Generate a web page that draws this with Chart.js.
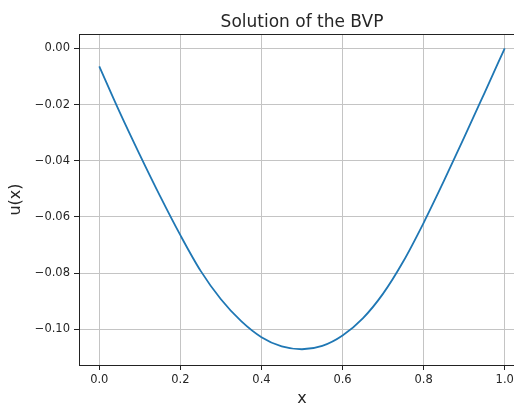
<!DOCTYPE html>
<html>
<head>
<meta charset="utf-8">
<script src="https://cdn.jsdelivr.net/npm/chart.js@4"></script>
<style>
  html, body { margin: 0; padding: 0; background: #fff; overflow: hidden; }
  canvas { display: block; }
</style>
</head>
<body>
<canvas id="c" width="540" height="405"></canvas>
<script>
// Values
const xs = [0, 0.05, 0.1, 0.15, 0.2, 0.25, 0.3, 0.35, 0.4, 0.45, 0.5,
            0.55, 0.6, 0.65, 0.7, 0.75, 0.8, 0.85, 0.9, 0.95, 1.0];
const us = [-0.0064, -0.0226, -0.0379, -0.0526, -0.0665, -0.0792, -0.0893, -0.0971, -0.1028, -0.1061, -0.1071,
            -0.1059, -0.1022, -0.0961, -0.0873, -0.0758, -0.0621, -0.0472, -0.0317, -0.0159, 0.0];

const xTicks = [0, 0.2, 0.4, 0.6, 0.8, 1.0];
const yTicks = [0, -0.02, -0.04, -0.06, -0.08, -0.10];

const TITLE = 'Solution of the BVP';
const FONT = '"DejaVu Sans", sans-serif';
const TEXT = '#262626';
const GRID = '#c4c4c4';

// title centred over the plot area, plus the frame round it
const frame = {
  id: 'frame',
  afterDraw(chart) {
    const { ctx, chartArea: a } = chart;
    ctx.save();
    ctx.strokeStyle = '#222';
    ctx.lineWidth = 1;
    ctx.strokeRect(a.left + 0.5, a.top + 0.5, a.right - a.left, a.bottom - a.top);
    ctx.fillStyle = TEXT;
    ctx.font = '17px ' + FONT;
    ctx.textAlign = 'center';
    ctx.textBaseline = 'alphabetic';
    ctx.fillText(TITLE, (a.left + a.right) / 2, 26.5);
    ctx.restore();
  }
};

const minus = s => s.replace('-', '\u2212');

new Chart(document.getElementById('c'), {
  type: 'line',
  data: {
    datasets: [{
      data: xs.map((x, i) => ({ x, y: us[i] })),
      borderColor: '#1f77b4',
      borderWidth: 1.8,
      pointRadius: 0,
      cubicInterpolationMode: 'monotone',
      fill: false,
    }]
  },
  options: {
    responsive: false,
    animation: false,
    layout: { padding: { top: 34, right: 15, left: 0, bottom: 0 } },
    plugins: { legend: { display: false }, tooltip: { enabled: false } },
    scales: {
      x: {
        type: 'linear',
        min: -0.05,
        max: 1.05,
        afterBuildTicks: s => { s.ticks = xTicks.map(v => ({ value: v })); },
        afterFit: s => { s.height = 40; },
        border: { display: false },
        grid: { color: GRID, lineWidth: 1, tickColor: '#222', tickLength: 5 },
        ticks: {
          color: TEXT, padding: 3, maxRotation: 0,
          font: { family: FONT, size: 11.5 },
          callback: v => minus(v.toFixed(1)),
        },
        title: {
          display: true, text: 'x', color: TEXT,
          font: { family: FONT, size: 16 }, padding: { top: 0, bottom: -3 },
        },
      },
      y: {
        type: 'linear',
        min: -0.1127,
        max: 0.0051,
        afterBuildTicks: s => { s.ticks = yTicks.map(v => ({ value: v })); },
        afterFit: s => { s.width = 79; },
        border: { display: false },
        grid: { color: GRID, lineWidth: 1, tickColor: '#222', tickLength: 5 },
        ticks: {
          color: TEXT, padding: 4,
          font: { family: FONT, size: 11.5 },
          callback: v => minus(v.toFixed(2)),
        },
        title: {
          display: true, text: 'u(x)', color: TEXT,
          font: { family: FONT, size: 16 }, padding: { top: 6, bottom: 0 },
        },
      },
    },
  },
  plugins: [frame],
});
</script>
</body>
</html>
